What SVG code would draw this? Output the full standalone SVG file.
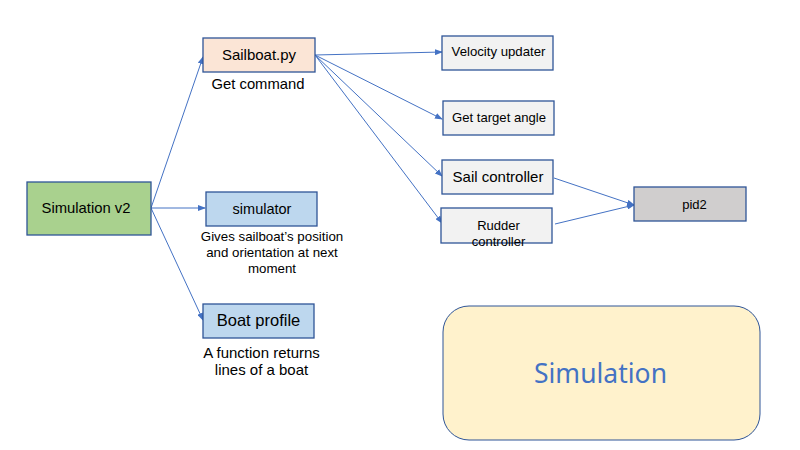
<svg xmlns="http://www.w3.org/2000/svg" width="800" height="450" viewBox="0 0 800 450">
<defs>
<marker id="ah" markerWidth="8" markerHeight="6" refX="7" refY="3" orient="auto" markerUnits="userSpaceOnUse">
<path d="M0,0 L8,3 L0,6 z" fill="#4472C4"/>
</marker>
<style>
.box{stroke:#2F5597;stroke-width:1.3}
.t{font-family:"Liberation Sans",Arial,sans-serif;fill:#000;text-anchor:middle}
.c{stroke:#4472C4;stroke-width:1;fill:none;marker-end:url(#ah)}
</style>
</defs>
<rect width="800" height="450" fill="#fff"/>
<g id="connectors">
<line class="c" x1="151" y1="208" x2="203" y2="57"/>
<line class="c" x1="151" y1="208" x2="205" y2="208"/>
<line class="c" x1="151" y1="208" x2="203" y2="320"/>
<line class="c" x1="315" y1="55" x2="442" y2="52"/>
<line class="c" x1="315" y1="55" x2="442" y2="119"/>
<line class="c" x1="315" y1="55" x2="442" y2="176"/>
<line class="c" x1="315" y1="55" x2="442" y2="223"/>
<line class="c" x1="554" y1="178" x2="634" y2="205"/>
<line class="c" x1="555" y1="224" x2="634" y2="205"/>
</g>
<g id="simv2">
<rect class="box" x="27" y="182" width="124" height="53" fill="#A9D18E"/>
<text class="t" x="86" y="213" font-size="14.8">Simulation v2</text>
</g>
<g id="sailboat">
<rect class="box" x="203" y="38" width="112" height="34" fill="#FBE5D6"/>
<text class="t" x="259" y="60" font-size="15">Sailboat.py</text>
<text class="t" x="258" y="89" font-size="14.8">Get command</text>
</g>
<g id="simulator">
<rect class="box" x="206" y="192" width="111" height="34" fill="#BDD7EE"/>
<text class="t" x="262" y="214" font-size="14.5">simulator</text>
<text class="t" x="272" y="241" font-size="13.3">Gives sailboat’s position</text>
<text class="t" x="272" y="257" font-size="13.3">and orientation at next</text>
<text class="t" x="272" y="273" font-size="13.3">moment</text>
</g>
<g id="boatprofile">
<rect class="box" x="203" y="304" width="111" height="34" fill="#BDD7EE"/>
<text class="t" x="258.5" y="326" font-size="16.5">Boat profile</text>
<text class="t" x="261.5" y="358" font-size="15">A function returns</text>
<text class="t" x="261.5" y="375" font-size="15">lines of a boat</text>
</g>
<g id="velocity">
<rect class="box" x="442" y="36" width="111" height="34" fill="#F2F2F2"/>
<text class="t" x="498.5" y="56" font-size="13.2">Velocity updater</text>
</g>
<g id="target">
<rect class="box" x="443" y="101" width="111" height="34" fill="#F2F2F2"/>
<text class="t" x="499" y="122" font-size="13.1">Get target angle</text>
</g>
<g id="sail">
<rect class="box" x="442" y="160" width="111" height="34" fill="#F2F2F2"/>
<text class="t" x="498" y="182" font-size="15">Sail controller</text>
</g>
<g id="rudder">
<rect class="box" x="441" y="208" width="111" height="35" fill="#F2F2F2"/>
<text class="t" x="498.5" y="230" font-size="13">Rudder</text>
<text class="t" x="498.5" y="246" font-size="13">controller</text>
</g>
<g id="pid2">
<rect class="box" x="634" y="187" width="112" height="34" fill="#D0CECE"/>
<text class="t" x="694.5" y="209" font-size="13">pid2</text>
</g>
<g id="simulation">
<rect x="443" y="306" width="317" height="134" rx="26" fill="#FFF2CC" stroke="#2F5597" stroke-width="1"/>
<text x="600.5" y="383" font-family="'Noto Sans','Open Sans',sans-serif" font-size="26.5" fill="#4472C4" text-anchor="middle">Simulation</text>
</g>
</svg>
